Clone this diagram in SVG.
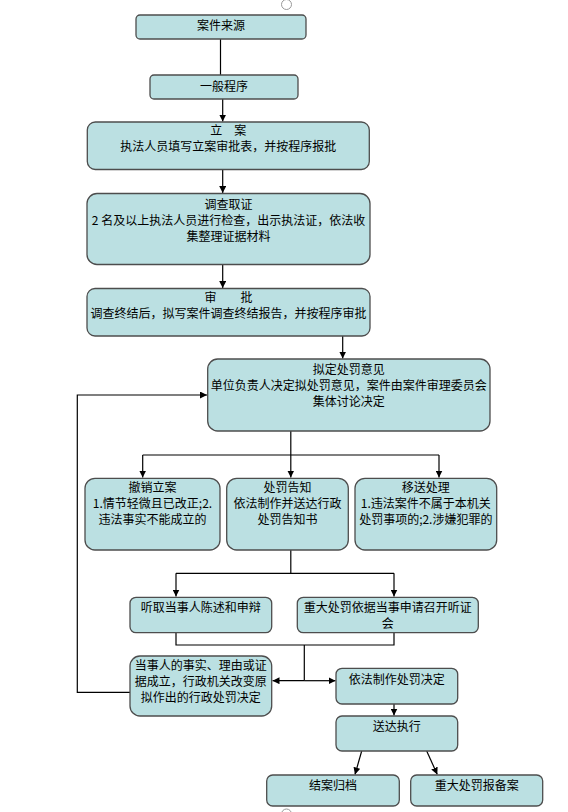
<svg xmlns="http://www.w3.org/2000/svg" width="568" height="812" viewBox="0 0 568 812">
<defs>
<style>
.box{fill:#bbe0e2;stroke:#4d4d4d;stroke-width:1.3}
.t{font-family:"Noto Sans CJK SC","Noto Sans",sans-serif;font-size:12px;fill:#000;text-anchor:middle}
.c{fill:none;stroke:#000;stroke-width:1.2}
.deco{fill:none;stroke:#999;stroke-width:1}
</style>
<marker id="ah" viewBox="0 0 10 10" refX="10" refY="5" markerWidth="7" markerHeight="7" orient="auto" markerUnits="userSpaceOnUse">
<path d="M0,0 L10,5 L0,10 z" fill="#000"/>
</marker>
</defs>
<rect width="568" height="812" fill="#fff"/>
<circle class="deco" cx="286.5" cy="4.5" r="5"/>
<circle class="deco" cx="286.5" cy="814" r="5"/>
<g id="connectors">
<line class="c" x1="220.5" y1="39" x2="220.5" y2="88"/>
<line class="c" x1="222.7" y1="98.5" x2="222.7" y2="121.5" marker-end="url(#ah)"/>
<line class="c" x1="222.7" y1="169.5" x2="222.7" y2="193" marker-end="url(#ah)"/>
<line class="c" x1="222.7" y1="264.5" x2="222.7" y2="288" marker-end="url(#ah)"/>
<line class="c" x1="342.7" y1="336" x2="342.7" y2="358.5" marker-end="url(#ah)"/>
<line class="c" x1="290.8" y1="431" x2="290.8" y2="455"/>
<line class="c" x1="142.7" y1="455" x2="439" y2="455"/>
<line class="c" x1="142.7" y1="455" x2="142.7" y2="477.5" marker-end="url(#ah)"/>
<line class="c" x1="290.8" y1="455" x2="290.8" y2="477.5" marker-end="url(#ah)"/>
<line class="c" x1="439" y1="455" x2="439" y2="477.5" marker-end="url(#ah)"/>
<line class="c" x1="290.8" y1="550" x2="290.8" y2="573.3"/>
<line class="c" x1="176" y1="573.3" x2="394" y2="573.3"/>
<line class="c" x1="176" y1="573.3" x2="176" y2="596.5" marker-end="url(#ah)"/>
<line class="c" x1="394" y1="573.3" x2="394" y2="596.5" marker-end="url(#ah)"/>
<polyline class="c" points="176,633 176,645 394,645 394,633"/>
<line class="c" x1="304.3" y1="645" x2="304.3" y2="680.7"/>
<line class="c" x1="304.3" y1="680.7" x2="272.5" y2="680.7" marker-end="url(#ah)"/>
<line class="c" x1="304.3" y1="680.7" x2="335.5" y2="680.7" marker-end="url(#ah)"/>
<polyline class="c" points="130,692.3 77.3,692.3 77.3,395 207,395" marker-end="url(#ah)"/>
<line class="c" x1="394" y1="704" x2="394" y2="715.5" marker-end="url(#ah)"/>
<line class="c" x1="361.7" y1="751" x2="355" y2="774.5" marker-end="url(#ah)"/>
<line class="c" x1="426.7" y1="751" x2="437.3" y2="774.5" marker-end="url(#ah)"/>
</g>
<g id="n1"><rect class="box" x="136" y="15" width="170" height="24" rx="4"/><text class="t" x="221" y="29.5">案件来源</text></g>
<g id="n2"><rect class="box" x="150" y="75" width="148" height="24" rx="4"/><text class="t" x="224" y="91">一般程序</text></g>
<g id="n3"><rect class="box" x="87.3" y="122" width="282" height="47.5" rx="8"/><text class="t" x="228.3" y="135">立　案</text><text class="t" x="228.3" y="151">执法人员填写立案审批表，并按程序报批</text></g>
<g id="n4"><rect class="box" x="87" y="193.5" width="283" height="71" rx="10"/><text class="t" x="228.5" y="208.5">调查取证</text><text class="t" x="228.5" y="225">2 名及以上执法人员进行检查，出示执法证，依法收</text><text class="t" x="228.5" y="241">集整理证据材料</text></g>
<g id="n5"><rect class="box" x="87" y="288.5" width="283" height="47.5" rx="8"/><text class="t" x="228.5" y="302">审　　批</text><text class="t" x="228.5" y="318">调查终结后，拟写案件调查终结报告，并按程序审批</text></g>
<g id="n6"><rect class="box" x="207.7" y="359" width="282.3" height="72" rx="10"/><text class="t" x="348.8" y="374">拟定处罚意见</text><text class="t" x="348.8" y="390">单位负责人决定拟处罚意见，案件由案件审理委员会</text><text class="t" x="348.8" y="406">集体讨论决定</text></g>
<g id="n7"><rect class="box" x="85" y="478.3" width="135" height="71.7" rx="10"/><text class="t" x="152.5" y="492">撤销立案</text><text class="t" x="152.5" y="508">1.情节轻微且已改正;2.</text><text class="t" x="152.5" y="524">违法事实不能成立的</text></g>
<g id="n8"><rect class="box" x="226.7" y="478.3" width="121.6" height="71.7" rx="10"/><text class="t" x="287.5" y="492">处罚告知</text><text class="t" x="287.5" y="508">依法制作并送达行政</text><text class="t" x="287.5" y="524">处罚告知书</text></g>
<g id="n9"><rect class="box" x="355" y="478.3" width="141.7" height="71.7" rx="10"/><text class="t" x="425.8" y="492">移送处理</text><text class="t" x="425.8" y="508">1.违法案件不属于本机关</text><text class="t" x="425.8" y="524">处罚事项的;2.涉嫌犯罪的</text></g>
<g id="n10"><rect class="box" x="130" y="597.3" width="141.7" height="35.4" rx="6"/><text class="t" x="200.8" y="611.5">听取当事人陈述和申辩</text></g>
<g id="n11"><rect class="box" x="297.3" y="597.3" width="181" height="35.4" rx="6"/><text class="t" x="387.8" y="611.5">重大处罚依据当事申请召开听证</text><text class="t" x="387.8" y="627.5">会</text></g>
<g id="n12"><rect class="box" x="130" y="656" width="141.7" height="60" rx="10"/><text class="t" x="200.8" y="670">当事人的事实、理由或证</text><text class="t" x="200.8" y="686">据成立，行政机关改变原</text><text class="t" x="200.8" y="702">拟作出的行政处罚决定</text></g>
<g id="n13"><rect class="box" x="336" y="668.3" width="121.7" height="35.7" rx="6"/><text class="t" x="396.8" y="683.5">依法制作处罚决定</text></g>
<g id="n14"><rect class="box" x="336" y="716" width="121.7" height="35" rx="6"/><text class="t" x="396.8" y="730.5">送达执行</text></g>
<g id="n15"><rect class="box" x="266.7" y="775" width="132.6" height="31" rx="6"/><text class="t" x="333" y="789.5">结案归档</text></g>
<g id="n16"><rect class="box" x="410.7" y="775" width="132" height="31" rx="6"/><text class="t" x="476.7" y="789.5">重大处罚报备案</text></g>
</svg>
